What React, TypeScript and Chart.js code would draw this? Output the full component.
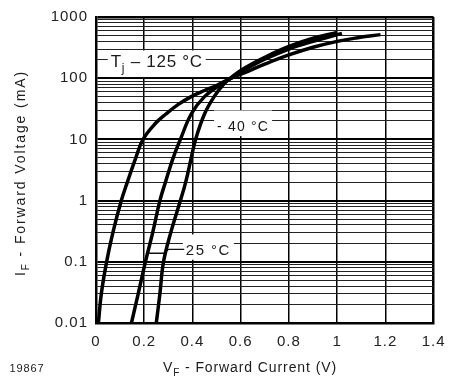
import React, { useEffect, useRef } from 'react';
import { Chart, registerables } from 'chart.js';

Chart.register(...registerables);

// ---------------- data ----------------
const xTickValues = [0, 0.2, 0.4, 0.6, 0.8, 1, 1.2, 1.4];
const xTickLabels = ['0', '0.2', '0.4', '0.6', '0.8', '1', '1.2', '1.4'];
const yDecadeValues = [0.01, 0.1, 1, 10, 100, 1000];
const yDecadeLabels = ['0.01', '0.1', '1', '10', '100', '1000'];
const yMinorFactors = [2, 3, 4, 5, 6, 7, 8, 9];

// Tj = 125 °C
const vfTj125 = [0.01, 0.022, 0.044, 0.07, 0.105, 0.13, 0.165, 0.195, 0.245, 0.29, 0.34, 0.395, 0.45, 0.5, 0.56, 0.62, 0.7, 0.8, 0.9, 1.0, 1.08, 1.18];
const ifTj125 = [0.01, 0.03, 0.1, 0.3, 1, 2, 5, 10, 18, 26, 37, 50, 63, 76, 100, 125, 170, 240, 320, 400, 455, 515];
// Tj = 25 °C
const vfTj25 = [0.147, 0.175, 0.205, 0.235, 0.265, 0.288, 0.32, 0.35, 0.395, 0.45, 0.52, 0.57, 0.62, 0.7, 0.8, 0.9, 1.02];
const ifTj25 = [0.01, 0.03, 0.1, 0.3, 1, 2, 5, 10, 26, 50, 80, 105, 140, 205, 300, 400, 540];
// Tj = -40 °C
const vfTjM40 = [0.25, 0.265, 0.28, 0.31, 0.35, 0.372, 0.395, 0.413, 0.45, 0.49, 0.53, 0.57, 0.62, 0.7, 0.8, 0.9, 1.0];
const ifTjM40 = [0.01, 0.03, 0.1, 0.3, 1, 2, 5, 10, 26, 50, 80, 110, 150, 220, 330, 450, 560];

const seriesNames = ['Tj = 125 °C', 'Tj = 25 °C', 'Tj = -40 °C'];

type Part = [string, boolean];
const xTitleParts: Part[] = [['V', false], ['F', true], [' - Forward Current (V)', false]];
const yTitleParts: Part[] = [['I', false], ['F', true], [' - Forward Voltage (mA)', false]];
const figureNumber = '19867';

// curve labels: text centre (V), baseline (mA), box top/bottom (mA)
const curveLabels = [
  { parts: [['T', false], ['j', true], [' – 125 °C', false]] as Part[], v: 0.252, base: 151, top: 284, bottom: 104.5, size: 17, width: 92 },
  { parts: [['- 40 °C', false]] as Part[], v: 0.61, base: 13.5, top: 29.7, bottom: 11.3, size: 14, width: 52 },
  { parts: [['25 °C', false]] as Part[], v: 0.466, base: 0.127, top: 0.28, bottom: 0.108, size: 15, width: 45 },
];
const leader25V = [0.215, 0.281, 0.301, 0.366];
const leader25I = [0.138, 0.138, 0.16, 0.16];

const FONT = '"Liberation Sans", Arial, Helvetica, sans-serif';

function buildYTicks(): number[] {
  const out: number[] = [];
  for (let i = 0; i < yDecadeValues.length; i++) {
    const d = yDecadeValues[i];
    out.push(d);
    if (i < yDecadeValues.length - 1) {
      for (const m of yMinorFactors) out.push(parseFloat((d * m).toPrecision(6)));
    }
  }
  return out;
}

function isDecade(v: number) {
  return yDecadeValues.findIndex((d) => Math.abs(Math.log10(v) - Math.log10(d)) < 1e-6);
}

function drawRich(ctx: CanvasRenderingContext2D, parts: Part[], cx: number, baseline: number, size: number, targetWidth: number) {
  const anyCtx = ctx as any;
  anyCtx.letterSpacing = '0px';
  const widths: number[] = [];
  let w = 0;
  let n = 0;
  for (const [t, sub] of parts) {
    ctx.font = `${sub ? Math.round(size * 0.72) : size}px ${FONT}`;
    const mw = ctx.measureText(t).width;
    widths.push(mw);
    w += mw;
    n += t.length;
  }
  const sp = targetWidth > 0 ? Math.max(0, (targetWidth - w) / n) : 0;
  anyCtx.letterSpacing = sp + 'px';
  let x = cx - (w + sp * n) / 2;
  ctx.textAlign = 'left';
  ctx.textBaseline = 'alphabetic';
  parts.forEach(([t, sub], i) => {
    ctx.font = `${sub ? Math.round(size * 0.72) : size}px ${FONT}`;
    ctx.fillText(t, x, baseline + (sub ? size * 0.3 : 0));
    x += widths[i] + sp * t.length;
  });
  anyCtx.letterSpacing = '0px';
  return w + sp * n;
}

const overlayPlugin = {
  id: 'overlay',
  beforeDraw(chart: any) {
    (chart.ctx as any).letterSpacing = '1px';
  },
  beforeDatasetsDraw(chart: any) {
    const ctx: CanvasRenderingContext2D = chart.ctx;
    const xs = chart.scales.x;
    const ys = chart.scales.y;
    ctx.save();
    for (const lab of curveLabels) {
      const cx = xs.getPixelForValue(lab.v);
      const top = ys.getPixelForValue(lab.top);
      const bottom = ys.getPixelForValue(lab.bottom);
      const pad = 3;
      ctx.fillStyle = '#fff';
      ctx.fillRect(cx - lab.width / 2 - pad, top, lab.width + pad * 2, bottom - top);
      ctx.fillStyle = '#1a1a1a';
      drawRich(ctx, lab.parts, cx, ys.getPixelForValue(lab.base), lab.size, lab.width);
    }
    ctx.strokeStyle = '#111';
    ctx.lineWidth = 1.3;
    ctx.beginPath();
    leader25V.forEach((v, i) => {
      const px = xs.getPixelForValue(v);
      const py = ys.getPixelForValue(leader25I[i]);
      if (i === 0) ctx.moveTo(px, py);
      else ctx.lineTo(px, py);
    });
    ctx.stroke();
    ctx.restore();
  },
  afterDraw(chart: any) {
    const ctx: CanvasRenderingContext2D = chart.ctx;
    const area = chart.chartArea;
    ctx.save();
    ctx.fillStyle = '#1a1a1a';
    // x title
    drawRich(ctx, xTitleParts, 250, 372, 14, 174);
    // y title
    ctx.save();
    ctx.translate(20, (area.top + area.bottom) / 2 + 3);
    ctx.rotate(-Math.PI / 2);
    drawRich(ctx, yTitleParts, 0, 5, 14, 206);
    ctx.restore();
    // figure number
    drawRich(ctx, [[figureNumber, false]], 27, 372, 11, 35);
    ctx.restore();
  },
};

export default function App() {
  const ref = useRef<HTMLCanvasElement | null>(null);

  useEffect(() => {
    if (!ref.current) return;
    const mk = (vf: number[], iv: number[]) => vf.map((v, i) => ({ x: v, y: iv[i] }));
    const yTickValues = buildYTicks();
    const lineDs = (label: string, data: any) => ({
      label,
      data,
      borderColor: '#000',
      backgroundColor: '#000',
      borderWidth: 3.5,
      pointRadius: 0,
      fill: false,
      tension: 0.4,
    });
    const chart = new Chart(ref.current, {
      type: 'line',
      data: {
        datasets: [
          lineDs(seriesNames[0], mk(vfTj125, ifTj125)),
          lineDs(seriesNames[1], mk(vfTj25, ifTj25)),
          lineDs(seriesNames[2], mk(vfTjM40, ifTjM40)),
        ],
      },
      options: {
        responsive: false,
        animation: false,
        devicePixelRatio: 1,
        events: [],
        layout: { padding: { left: 0, right: 14, top: 12, bottom: 0 } },
        plugins: { legend: { display: false }, tooltip: { enabled: false } },
        scales: {
          x: {
            type: 'linear',
            min: 0,
            max: 1.4,
            afterBuildTicks: (s: any) => {
              s.ticks = xTickValues.map((v) => ({ value: v }));
            },
            afterFit: (s: any) => {
              s.height = 60;
            },
            ticks: {
              autoSkip: false,
              maxRotation: 0,
              padding: 10,
              color: '#222',
              font: { family: FONT, size: 15 },
              callback: (_v: any, i: number) => xTickLabels[i],
            },
            grid: {
              drawTicks: false,
              color: '#000',
              lineWidth: (c: any) => (c.tick && Math.abs(c.tick.value - 1.4) < 1e-9 ? 2.5 : 1.5),
            },
            border: { display: true, color: '#000', width: 2.5 },
          },
          y: {
            type: 'logarithmic',
            min: 0.01,
            max: 1000,
            afterBuildTicks: (s: any) => {
              s.ticks = yTickValues.map((v) => ({ value: v }));
            },
            afterFit: (s: any) => {
              s.width = 96;
            },
            ticks: {
              autoSkip: false,
              padding: 8,
              color: '#222',
              font: { family: FONT, size: 15 },
              callback: (v: any) => {
                const k = isDecade(Number(v));
                return k >= 0 ? yDecadeLabels[k] : '';
              },
            },
            grid: {
              drawTicks: false,
              color: (c: any) => (c.tick && isDecade(c.tick.value) >= 0 ? '#000' : '#222'),
              lineWidth: (c: any) => {
                if (!c.tick) return 1;
                if (Math.abs(c.tick.value - 1000) < 1e-6) return 2.5;
                return isDecade(c.tick.value) >= 0 ? 2 : 1;
              },
            },
            border: { display: true, color: '#000', width: 2.5 },
          },
        },
      } as any,
      plugins: [overlayPlugin as any],
    });
    return () => chart.destroy();
  }, []);

  return (
    <div style={{ position: 'absolute', left: 0, top: 0, width: 454, height: 383, background: '#fff' }}>
      <canvas ref={ref} width={454} height={383} style={{ display: 'block' }} />
    </div>
  );
}
